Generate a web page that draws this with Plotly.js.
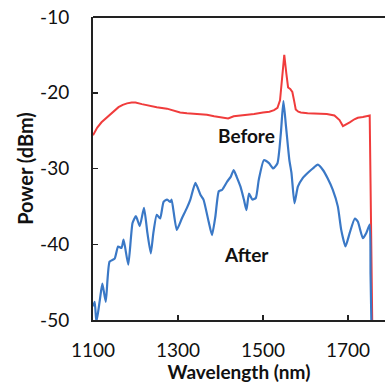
<!DOCTYPE html>
<html><head><meta charset="utf-8">
<script src="https://cdn.plot.ly/plotly-3.0.1.min.js"></script>
<style>html,body{margin:0;padding:0;overflow:hidden;background:#fff}</style>
</head><body><div id="chart" style="width:385px;height:383px"></div>
<script>
// "Before" spectrum (red)
const beforeWl = [1100,1110,1120,1130,1139,1150,1160,1170,1180,1191,1200,1215,1230,1250,1274,1290,1305,1321,1340,1355,1368,1385,1404,1418,1431,1450,1465,1479,1500,1515,1526,1534,1540,1545,1550,1555,1559,1564,1569,1573,1577,1583,1589,1605,1628,1650,1668,1680,1688,1696,1704,1715,1723,1735,1747,1751,1753,1755,1757];
const beforeDb = [-25.6,-24.6,-23.9,-23.4,-23.0,-22.4,-21.9,-21.6,-21.4,-21.3,-21.3,-21.5,-21.7,-21.9,-22.1,-22.4,-22.6,-22.7,-22.8,-22.9,-22.9,-23.1,-23.3,-23.4,-23.1,-23.0,-22.9,-22.8,-22.6,-22.5,-22.3,-22.0,-21.0,-18.0,-15.0,-17.5,-19.3,-19.5,-19.9,-21.0,-22.2,-22.5,-22.6,-22.7,-22.8,-22.8,-23.0,-23.6,-24.4,-24.2,-23.9,-23.5,-23.3,-23.2,-23.1,-23.0,-32.0,-42.0,-50.5];
// "After" spectrum (blue)
const afterWl = [1100,1104,1108,1116,1122,1130,1139,1151,1159,1167,1172,1183,1193,1201,1210,1220,1228,1236,1242,1250,1258,1266,1274,1282,1285,1297,1309,1321,1329,1341,1353,1360,1372,1380,1388,1396,1404,1416,1424,1431,1438,1447,1455,1461,1467,1475,1483,1490,1502,1514,1524,1534,1542,1548,1554,1562,1567,1574,1582,1593,1605,1617,1629,1641,1652,1664,1676,1684,1694,1704,1716,1723,1735,1743,1751,1753,1755];
const afterDb = [-48.2,-47.6,-50.3,-47.4,-45.2,-47.6,-42.3,-41.9,-40.3,-40.5,-39.4,-42.7,-37.2,-36.3,-37.6,-35.2,-38.5,-41.2,-38.5,-36.1,-36.6,-34.4,-34.1,-34.4,-34.1,-38.1,-36.6,-35.2,-34.1,-31.9,-33.5,-34.1,-37.0,-38.8,-36.3,-33.0,-32.8,-31.7,-31.1,-30.2,-31.1,-32.4,-34.1,-35.5,-33.3,-34.1,-33.9,-31.5,-28.9,-29.3,-30.0,-29.3,-25.3,-21.1,-24.4,-28.9,-30.6,-34.6,-32.4,-31.3,-30.6,-30.0,-29.5,-30.2,-31.3,-32.8,-35.0,-38.1,-40.3,-38.5,-36.6,-37.0,-39.2,-38.5,-37.4,-44.0,-50.5];
const xTicks = [1100,1300,1500,1700];
const yTicks = [-50,-40,-30,-20,-10];
const yTickText = ['-50','-40','-30','-20','-10'];

const FONT = 'Lato, "Open Sans", sans-serif';
const traces = [
  {x: beforeWl, y: beforeDb, type:'scatter', mode:'lines', line:{color:'#f03c3c', width:2}, hoverinfo:'skip'},
  {x: afterWl, y: afterDb, type:'scatter', mode:'lines', line:{color:'#3a78c6', width:2.2, shape:'spline', smoothing:0.5}, hoverinfo:'skip'}
];
const layout = {
  width:385, height:383,
  margin:{l:93, r:0, t:17, b:63},
  paper_bgcolor:'#fff', plot_bgcolor:'#fff',
  showlegend:false,
  font:{family:FONT, size:19, color:'#111'},
  xaxis:{range:[1100,1787], tickvals:xTicks, ticks:'inside', ticklen:5, tickwidth:1.5, tickcolor:'#222',
         showline:true, linecolor:'#222', linewidth:2, showgrid:false, zeroline:false,
         ticklabelstandoff:12, tickfont:{family:FONT, size:19, color:'#111'},
         title:{text:'<b>Wavelength (nm)</b>', font:{family:FONT, size:19, color:'#111'}, standoff:0}},
  yaxis:{range:[-50,-10], tickvals:yTicks, ticktext:yTickText, ticks:'inside', ticklen:5, tickwidth:1.5, tickcolor:'#222',
         showline:true, linecolor:'#222', linewidth:2, showgrid:false, zeroline:false,
         ticklabelstandoff:18, tickfont:{family:FONT, size:19, color:'#111'},
         title:{text:'<b>Power (dBm)</b>', font:{family:FONT, size:20, color:'#111'}, standoff:1}},
  shapes:[{type:'line', xref:'paper', yref:'paper', x0:0, x1:1, y0:1, y1:1, line:{color:'#222', width:2}}],
  annotations:[
    {x:1460, y:-25.6, xref:'x', yref:'y', text:'<b>Before</b>', showarrow:false, font:{family:FONT, size:19, color:'#111'}},
    {x:1460, y:-41.3, xref:'x', yref:'y', text:'<b>After</b>', showarrow:false, font:{family:FONT, size:19, color:'#111'}}
  ]
};
Plotly.newPlot('chart', traces, layout, {displayModeBar:false, staticPlot:true});
</script></body></html>
